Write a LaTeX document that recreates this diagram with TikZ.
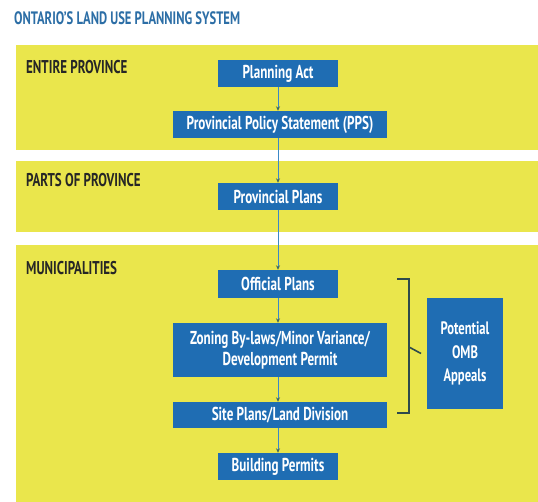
\documentclass[tikz,border=0pt]{standalone}
\usepackage{fontspec}
\setmainfont{PT Sans}[FakeStretch=0.7]
\usetikzlibrary{arrows.meta}
\definecolor{bandyellow}{HTML}{EAE64C}
\definecolor{boxblue}{HTML}{1F6DB3}
\definecolor{titleblue}{HTML}{2C6EA6}
\definecolor{flowblue}{HTML}{3C88C8}
\definecolor{tipgreen}{HTML}{3F6A5C}
\definecolor{bracketdark}{HTML}{2E4A4C}
\begin{document}
\begin{tikzpicture}[x=1pt,y=-1pt,
  stagebox/.style={fill=boxblue, text=white, inner sep=0pt, align=center,
    font=\bfseries\fontsize{18.7}{21}\selectfont},
  narrowbox/.style={stagebox, minimum width=120pt, minimum height=27pt},
  widebox/.style={stagebox, minimum width=214pt, minimum height=27pt},
  bandlabel/.style={anchor=west, inner sep=0pt, text=black!85,
    font=\bfseries\fontsize{18.5}{20}\selectfont},
  flow/.style={draw=flowblue, line width=0.9pt,
    -{Stealth[length=4.5pt,width=4pt,color=tipgreen]}},
  bracket/.style={draw=bracketdark, line width=1.6pt}]
\useasboundingbox (0,0) rectangle (538,502);
\fill[white] (0,0) rectangle (538,502);

% title
\node[anchor=west, inner sep=0pt, text=titleblue,
  font=\bfseries\fontsize{18}{20}\selectfont] (title) at (14,18)
  {ONTARIO’S LAND USE PLANNING SYSTEM};

% jurisdiction bands
\fill[bandyellow] (16,45) rectangle (538,150);
\fill[bandyellow] (16,161) rectangle (538,232);
\fill[bandyellow] (16,245) rectangle (538,502);

\node[bandlabel] (lentire) at (26,67) {ENTIRE PROVINCE};
\node[bandlabel] (lparts) at (26,180) {PARTS OF PROVINCE};
\node[bandlabel] (lmuni) at (26,268) {MUNICIPALITIES};

% planning instruments
\node[narrowbox] (act) at (278,73.5) {Planning Act};
\node[widebox] (pps) at (280,124.5) {Provincial Policy Statement (PPS)};
\node[narrowbox] (prov) at (278,196.5) {Provincial Plans};
\node[narrowbox, minimum height=28pt] (official) at (278,284) {Official Plans};
\node[widebox, minimum height=54pt] (zoning) at (280,350)
  {Zoning By-laws/Minor Variance/\\Development Permit};
\node[widebox, minimum height=26pt] (site) at (280,415) {Site Plans/Land Division};
\node[narrowbox] (building) at (278,466.5) {Building Permits};

\node[stagebox, minimum width=76pt, minimum height=111pt,
  font=\bfseries\fontsize{18}{23.5}\selectfont] (omb) at (465,353.5)
  {Potential\\OMB\\Appeals};

% flow between instruments
\draw[flow] (act.south) -- (act.south |- pps.north);
\draw[flow] (act.south |- pps.south) -- (act.south |- prov.north);
\draw[flow] (prov.south) -- (prov.south |- official.north);
\draw[flow] (official.south) -- (official.south |- zoning.north);
\draw[flow] (official.south |- zoning.south) -- (official.south |- site.north);
\draw[flow] (official.south |- site.south) -- (building.north);

% bracket grouping the appealable instruments
\coordinate (btop) at (397,279);
\coordinate (bbot) at (397,413);
\coordinate (bmid) at (409,347);
\draw[bracket] (btop) -- ++(12,0) -- (409,413) -- (bbot);
\draw[bracket] (bmid) -- (omb.west -| 421,0);
\end{tikzpicture}
\end{document}
